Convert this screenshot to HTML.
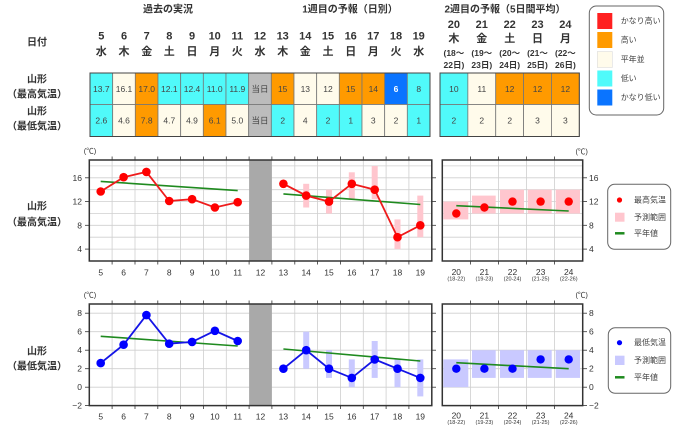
<!DOCTYPE html>
<html><head><meta charset="utf-8">
<style>
html,body{margin:0;padding:0;background:#fff;}
svg{display:block;font-family:"Liberation Sans","Noto Sans CJK JP",sans-serif;}
.h{font-size:10px;font-weight:bold;fill:#333;text-anchor:middle;dominant-baseline:central;}
.dn{font-size:11px;font-weight:bold;fill:#333;text-anchor:middle;dominant-baseline:central;}
.sm{font-size:8.5px;fill:#333;text-anchor:middle;dominant-baseline:central;}
.cv{font-size:8.5px;fill:#444;text-anchor:middle;dominant-baseline:central;}
.ax{font-size:8.5px;fill:#333;dominant-baseline:central;}
.xs{font-size:5.5px;fill:#333;text-anchor:middle;dominant-baseline:central;}
.lg{font-size:8px;fill:#444;dominant-baseline:central;}
.grid line{stroke:#cfcfcf;stroke-width:0.8;}
</style></head><body>
<svg width="680" height="436" viewBox="0 0 680 436" xmlns="http://www.w3.org/2000/svg">
<rect width="680" height="436" fill="#fff"/>

<!-- Headers -->
<text class="h" x="168" y="10">過去の実況</text>
<text class="h" x="350" y="10">1週目の予報（日別）</text>
<text class="h" x="505" y="10">2週目の予報（5日間平均）</text>

<text class="h" x="37" y="43">日付</text>
<text class="h" x="37" y="80">山形</text>
<text class="h" x="37" y="95">（最高気温）</text>
<text class="h" x="37" y="112">山形</text>
<text class="h" x="37" y="127">（最低気温）</text>

<!-- date header week1 -->
<g class="dn">
<text x="101.3" y="36.7">5</text><text x="124" y="36.7">6</text><text x="146.7" y="36.7">7</text><text x="169.3" y="36.7">8</text><text x="192" y="36.7">9</text><text x="214.7" y="36.7">10</text><text x="237.3" y="36.7">11</text><text x="260" y="36.7">12</text><text x="282.7" y="36.7">13</text><text x="305.3" y="36.7">14</text><text x="328" y="36.7">15</text><text x="350.7" y="36.7">16</text><text x="373.3" y="36.7">17</text><text x="396" y="36.7">18</text><text x="418.7" y="36.7">19</text>
<text x="101.3" y="52">水</text><text x="124" y="52">木</text><text x="146.7" y="52">金</text><text x="169.3" y="52">土</text><text x="192" y="52">日</text><text x="214.7" y="52">月</text><text x="237.3" y="52">火</text><text x="260" y="52">水</text><text x="282.7" y="52">木</text><text x="305.3" y="52">金</text><text x="328" y="52">土</text><text x="350.7" y="52">日</text><text x="373.3" y="52">月</text><text x="396" y="52">火</text><text x="418.7" y="52">水</text>
<text x="453.9" y="25">20</text><text x="481.8" y="25">21</text><text x="509.7" y="25">22</text><text x="537.5" y="25">23</text><text x="565.4" y="25">24</text>
<text x="453.9" y="39">木</text><text x="481.8" y="39">金</text><text x="509.7" y="39">土</text><text x="537.5" y="39">日</text><text x="565.4" y="39">月</text>
</g>
<g class="sm" style="font-weight:bold">
<text x="453.9" y="53">(18～</text><text x="481.8" y="53">(19～</text><text x="509.7" y="53">(20～</text><text x="537.5" y="53">(21～</text><text x="565.4" y="53">(22～</text>
<text x="453.9" y="65">22日)</text><text x="481.8" y="65">23日)</text><text x="509.7" y="65">24日)</text><text x="537.5" y="65">25日)</text><text x="565.4" y="65">26日)</text>
</g>

<!-- Table week1 cells -->
<g stroke="#777" stroke-width="0.8">
<rect x="90" y="73" width="22.67" height="31.5" fill="#50fafa"/>
<rect x="112.67" y="73" width="22.67" height="31.5" fill="#fffbeb"/>
<rect x="135.33" y="73" width="22.67" height="31.5" fill="#ff9a00"/>
<rect x="158" y="73" width="22.67" height="31.5" fill="#50fafa"/>
<rect x="180.67" y="73" width="22.67" height="31.5" fill="#50fafa"/>
<rect x="203.33" y="73" width="22.67" height="31.5" fill="#50fafa"/>
<rect x="226" y="73" width="22.67" height="31.5" fill="#50fafa"/>
<rect x="248.67" y="73" width="22.67" height="31.5" fill="#bcbcbc"/>
<rect x="271.33" y="73" width="22.67" height="31.5" fill="#ff9a00"/>
<rect x="294" y="73" width="22.67" height="31.5" fill="#fffbeb"/>
<rect x="316.67" y="73" width="22.67" height="31.5" fill="#fffbeb"/>
<rect x="339.33" y="73" width="22.67" height="31.5" fill="#ff9a00"/>
<rect x="362" y="73" width="22.67" height="31.5" fill="#ff9a00"/>
<rect x="384.67" y="73" width="22.67" height="31.5" fill="#0a74ff"/>
<rect x="407.33" y="73" width="22.67" height="31.5" fill="#50fafa"/>

<rect x="90" y="104.5" width="22.67" height="32" fill="#50fafa"/>
<rect x="112.67" y="104.5" width="22.67" height="32" fill="#fffbeb"/>
<rect x="135.33" y="104.5" width="22.67" height="32" fill="#ff9a00"/>
<rect x="158" y="104.5" width="22.67" height="32" fill="#fffbeb"/>
<rect x="180.67" y="104.5" width="22.67" height="32" fill="#fffbeb"/>
<rect x="203.33" y="104.5" width="22.67" height="32" fill="#ff9a00"/>
<rect x="226" y="104.5" width="22.67" height="32" fill="#fffbeb"/>
<rect x="248.67" y="104.5" width="22.67" height="32" fill="#bcbcbc"/>
<rect x="271.33" y="104.5" width="22.67" height="32" fill="#50fafa"/>
<rect x="294" y="104.5" width="22.67" height="32" fill="#fffbeb"/>
<rect x="316.67" y="104.5" width="22.67" height="32" fill="#50fafa"/>
<rect x="339.33" y="104.5" width="22.67" height="32" fill="#50fafa"/>
<rect x="362" y="104.5" width="22.67" height="32" fill="#fffbeb"/>
<rect x="384.67" y="104.5" width="22.67" height="32" fill="#fffbeb"/>
<rect x="407.33" y="104.5" width="22.67" height="32" fill="#50fafa"/>

<rect x="440" y="73" width="27.86" height="31.5" fill="#50fafa"/>
<rect x="467.86" y="73" width="27.86" height="31.5" fill="#fffbeb"/>
<rect x="495.72" y="73" width="27.86" height="31.5" fill="#ff9a00"/>
<rect x="523.58" y="73" width="27.86" height="31.5" fill="#ff9a00"/>
<rect x="551.44" y="73" width="27.86" height="31.5" fill="#ff9a00"/>
<rect x="440" y="104.5" width="27.86" height="32" fill="#50fafa"/>
<rect x="467.86" y="104.5" width="27.86" height="32" fill="#fffbeb"/>
<rect x="495.72" y="104.5" width="27.86" height="32" fill="#fffbeb"/>
<rect x="523.58" y="104.5" width="27.86" height="32" fill="#fffbeb"/>
<rect x="551.44" y="104.5" width="27.86" height="32" fill="#fffbeb"/>
</g>
<rect x="90" y="73" width="340" height="63.5" fill="none" stroke="#444" stroke-width="1"/>
<rect x="440" y="73" width="139.3" height="63.5" fill="none" stroke="#444" stroke-width="1"/>

<g class="cv">
<text x="101.3" y="89">13.7</text><text x="124" y="89">16.1</text><text x="146.7" y="89">17.0</text><text x="169.3" y="89">12.1</text><text x="192" y="89">12.4</text><text x="214.7" y="89">11.0</text><text x="237.3" y="89">11.9</text><text x="260" y="89">当日</text><text x="282.7" y="89">15</text><text x="305.3" y="89">13</text><text x="328" y="89">12</text><text x="350.7" y="89">15</text><text x="373.3" y="89">14</text><text x="396" y="89" style="fill:#fff;font-weight:bold">6</text><text x="418.7" y="89">8</text>
<text x="101.3" y="120.5">2.6</text><text x="124" y="120.5">4.6</text><text x="146.7" y="120.5">7.8</text><text x="169.3" y="120.5">4.7</text><text x="192" y="120.5">4.9</text><text x="214.7" y="120.5">6.1</text><text x="237.3" y="120.5">5.0</text><text x="260" y="120.5">当日</text><text x="282.7" y="120.5">2</text><text x="305.3" y="120.5">4</text><text x="328" y="120.5">2</text><text x="350.7" y="120.5">1</text><text x="373.3" y="120.5">3</text><text x="396" y="120.5">2</text><text x="418.7" y="120.5">1</text>
<text x="453.9" y="89">10</text><text x="481.8" y="89">11</text><text x="509.7" y="89">12</text><text x="537.5" y="89">12</text><text x="565.4" y="89">12</text>
<text x="453.9" y="120.5">2</text><text x="481.8" y="120.5">2</text><text x="509.7" y="120.5">2</text><text x="537.5" y="120.5">3</text><text x="565.4" y="120.5">3</text>
</g>

<!-- Top legend -->
<rect x="589.3" y="6" width="74.4" height="109" rx="7" fill="#fff" stroke="#666" stroke-width="1"/>
<rect x="597.3" y="13" width="15" height="16" fill="#ff2020"/>
<rect x="597.3" y="32" width="15" height="16" fill="#ff9a00"/>
<rect x="597.3" y="51.5" width="15" height="16" fill="#fffbeb" stroke="#ddd" stroke-width="0.6"/>
<rect x="597.3" y="70.5" width="15" height="16" fill="#50fafa"/>
<rect x="597.3" y="89.5" width="15" height="16" fill="#0a74ff"/>
<g class="lg">
<text x="620.7" y="21">かなり高い</text>
<text x="620.7" y="40">高い</text>
<text x="620.7" y="59.5">平年並</text>
<text x="620.7" y="78.5">低い</text>
<text x="620.7" y="97.5">かなり低い</text>
</g>

<!-- ================= TOP CHART (max) ================= -->
<text class="h" x="37" y="207">山形</text>
<text class="h" x="37" y="223">（最高気温）</text>
<text class="sm" x="90" y="151" style="font-size:7.5px">(℃)</text>
<text class="sm" x="581.7" y="151.7" style="font-size:7.5px">(℃)</text>

<!-- grid week1 -->
<g class="grid">
<line x1="89.3" x2="431.8" y1="165.9" y2="165.9"/><line x1="89.3" x2="431.8" y1="177.8" y2="177.8"/><line x1="89.3" x2="431.8" y1="189.7" y2="189.7"/><line x1="89.3" x2="431.8" y1="201.6" y2="201.6"/><line x1="89.3" x2="431.8" y1="213.5" y2="213.5"/><line x1="89.3" x2="431.8" y1="225.3" y2="225.3"/><line x1="89.3" x2="431.8" y1="237.2" y2="237.2"/><line x1="89.3" x2="431.8" y1="249.1" y2="249.1"/>
<line x1="112.1" x2="112.1" y1="160" y2="261"/><line x1="135" x2="135" y1="160" y2="261"/><line x1="157.8" x2="157.8" y1="160" y2="261"/><line x1="180.6" x2="180.6" y1="160" y2="261"/><line x1="203.5" x2="203.5" y1="160" y2="261"/><line x1="226.3" x2="226.3" y1="160" y2="261"/><line x1="294.8" x2="294.8" y1="160" y2="261"/><line x1="317.6" x2="317.6" y1="160" y2="261"/><line x1="340.4" x2="340.4" y1="160" y2="261"/><line x1="363.3" x2="363.3" y1="160" y2="261"/><line x1="386.1" x2="386.1" y1="160" y2="261"/><line x1="408.9" x2="408.9" y1="160" y2="261"/>
<!-- week2 -->
<line x1="442.3" x2="582.7" y1="165.9" y2="165.9"/><line x1="442.3" x2="582.7" y1="177.8" y2="177.8"/><line x1="442.3" x2="582.7" y1="189.7" y2="189.7"/><line x1="442.3" x2="582.7" y1="201.6" y2="201.6"/><line x1="442.3" x2="582.7" y1="213.5" y2="213.5"/><line x1="442.3" x2="582.7" y1="225.3" y2="225.3"/><line x1="442.3" x2="582.7" y1="237.2" y2="237.2"/><line x1="442.3" x2="582.7" y1="249.1" y2="249.1"/>
<line x1="470.4" x2="470.4" y1="160" y2="261"/><line x1="498.5" x2="498.5" y1="160" y2="261"/><line x1="526.5" x2="526.5" y1="160" y2="261"/><line x1="554.6" x2="554.6" y1="160" y2="261"/>
</g>
<rect x="249.1" y="160" width="22.8" height="101" fill="#a9a9a9"/>

<!-- pink ranges week1 -->
<g fill="#ffc6ce">
<rect x="303.2" y="183.8" width="6" height="23.7"/>
<rect x="326" y="189.7" width="6" height="23.8"/>
<rect x="348.8" y="172.3" width="6" height="27"/>
<rect x="371.7" y="166" width="6" height="33.3"/>
<rect x="394.5" y="219.4" width="6" height="29.7"/>
<rect x="417.3" y="195.6" width="6" height="41.6"/>
<!-- week2 -->
<rect x="443.3" y="201.6" width="25" height="17.8"/>
<rect x="472" y="195.6" width="23.7" height="17.9"/>
<rect x="500" y="189.7" width="24" height="23.8"/>
<rect x="527.7" y="189.7" width="24" height="23.8"/>
<rect x="555.7" y="189.7" width="24.3" height="23.8"/>
</g>

<!-- normals -->
<g stroke="#1f8a1f" stroke-width="1.6">
<line x1="100.7" y1="181.4" x2="237.7" y2="190.6"/>
<line x1="283.4" y1="193.9" x2="420.3" y2="204.5"/>
<line x1="456.3" y1="205.7" x2="568.7" y2="211"/>
</g>

<!-- red series -->
<g fill="none" stroke="#ee1c1c" stroke-width="1.8">
<polyline points="100.7,191.5 123.6,177.2 146.4,171.9 169.2,201 192.1,199.2 214.9,207.5 237.7,202.2"/>
<polyline points="283.4,183.8 306.2,195.6 329,201.6 351.8,183.8 374.7,189.7 397.5,237.2 420.3,225.3"/>
</g>
<g fill="#ff0000">
<circle cx="100.7" cy="191.5" r="4.3"/><circle cx="123.6" cy="177.2" r="4.3"/><circle cx="146.4" cy="171.9" r="4.3"/><circle cx="169.2" cy="201" r="4.3"/><circle cx="192.1" cy="199.2" r="4.3"/><circle cx="214.9" cy="207.5" r="4.3"/><circle cx="237.7" cy="202.2" r="4.3"/>
<circle cx="283.4" cy="183.8" r="4.3"/><circle cx="306.2" cy="195.6" r="4.3"/><circle cx="329" cy="201.6" r="4.3"/><circle cx="351.8" cy="183.8" r="4.3"/><circle cx="374.7" cy="189.7" r="4.3"/><circle cx="397.5" cy="237.2" r="4.3"/><circle cx="420.3" cy="225.3" r="4.3"/>
<circle cx="456.3" cy="213.5" r="4.2"/><circle cx="484.4" cy="207.5" r="4.2"/><circle cx="512.5" cy="201.6" r="4.2"/><circle cx="540.6" cy="201.6" r="4.2"/><circle cx="568.7" cy="201.6" r="4.2"/>
</g>

<!-- frames + ticks -->
<rect x="89.3" y="160" width="342.5" height="101" fill="none" stroke="#333" stroke-width="1.5"/>
<rect x="442.3" y="160" width="140.4" height="101" fill="none" stroke="#333" stroke-width="1.5"/>
<g stroke="#333" stroke-width="0.8">
<line x1="85" x2="89.3" y1="177.8" y2="177.8"/><line x1="85" x2="89.3" y1="201.6" y2="201.6"/><line x1="85" x2="89.3" y1="225.3" y2="225.3"/><line x1="85" x2="89.3" y1="249.1" y2="249.1"/>
<line x1="431.8" x2="436" y1="177.8" y2="177.8"/><line x1="431.8" x2="436" y1="201.6" y2="201.6"/><line x1="431.8" x2="436" y1="225.3" y2="225.3"/><line x1="431.8" x2="436" y1="249.1" y2="249.1"/>
<line x1="582.7" x2="587" y1="177.8" y2="177.8"/><line x1="582.7" x2="587" y1="201.6" y2="201.6"/><line x1="582.7" x2="587" y1="225.3" y2="225.3"/><line x1="582.7" x2="587" y1="249.1" y2="249.1"/>
<line x1="112.1" x2="112.1" y1="156.5" y2="160"/><line x1="135" x2="135" y1="156.5" y2="160"/><line x1="157.8" x2="157.8" y1="156.5" y2="160"/><line x1="180.6" x2="180.6" y1="156.5" y2="160"/><line x1="203.5" x2="203.5" y1="156.5" y2="160"/><line x1="226.3" x2="226.3" y1="156.5" y2="160"/><line x1="249.1" x2="249.1" y1="156.5" y2="160"/><line x1="271.9" x2="271.9" y1="156.5" y2="160"/><line x1="294.8" x2="294.8" y1="156.5" y2="160"/><line x1="317.6" x2="317.6" y1="156.5" y2="160"/><line x1="340.4" x2="340.4" y1="156.5" y2="160"/><line x1="363.3" x2="363.3" y1="156.5" y2="160"/><line x1="386.1" x2="386.1" y1="156.5" y2="160"/><line x1="408.9" x2="408.9" y1="156.5" y2="160"/>
<line x1="112.1" x2="112.1" y1="261" y2="264.5"/><line x1="135" x2="135" y1="261" y2="264.5"/><line x1="157.8" x2="157.8" y1="261" y2="264.5"/><line x1="180.6" x2="180.6" y1="261" y2="264.5"/><line x1="203.5" x2="203.5" y1="261" y2="264.5"/><line x1="226.3" x2="226.3" y1="261" y2="264.5"/><line x1="249.1" x2="249.1" y1="261" y2="264.5"/><line x1="271.9" x2="271.9" y1="261" y2="264.5"/><line x1="294.8" x2="294.8" y1="261" y2="264.5"/><line x1="317.6" x2="317.6" y1="261" y2="264.5"/><line x1="340.4" x2="340.4" y1="261" y2="264.5"/><line x1="363.3" x2="363.3" y1="261" y2="264.5"/><line x1="386.1" x2="386.1" y1="261" y2="264.5"/><line x1="408.9" x2="408.9" y1="261" y2="264.5"/>
<line x1="470.4" x2="470.4" y1="156.5" y2="160"/><line x1="498.5" x2="498.5" y1="156.5" y2="160"/><line x1="526.5" x2="526.5" y1="156.5" y2="160"/><line x1="554.6" x2="554.6" y1="156.5" y2="160"/>
<line x1="470.4" x2="470.4" y1="261" y2="264.5"/><line x1="498.5" x2="498.5" y1="261" y2="264.5"/><line x1="526.5" x2="526.5" y1="261" y2="264.5"/><line x1="554.6" x2="554.6" y1="261" y2="264.5"/>
</g>
<g class="ax" text-anchor="end">
<text x="82" y="177.8">16</text><text x="82" y="201.6">12</text><text x="82" y="225.3">8</text><text x="82" y="249.1">4</text>
</g>
<g class="ax" text-anchor="start">
<text x="589" y="177.8">16</text><text x="589" y="201.6">12</text><text x="589" y="225.3">8</text><text x="589" y="249.1">4</text>
</g>
<g class="sm">
<text x="100.7" y="272.7">5</text><text x="123.6" y="272.7">6</text><text x="146.4" y="272.7">7</text><text x="169.2" y="272.7">8</text><text x="192.1" y="272.7">9</text><text x="214.9" y="272.7">10</text><text x="237.7" y="272.7">11</text><text x="260.5" y="272.7">12</text><text x="283.4" y="272.7">13</text><text x="306.2" y="272.7">14</text><text x="329" y="272.7">15</text><text x="351.8" y="272.7">16</text><text x="374.7" y="272.7">17</text><text x="397.5" y="272.7">18</text><text x="420.3" y="272.7">19</text>
<text x="456.3" y="272">20</text><text x="484.4" y="272">21</text><text x="512.5" y="272">22</text><text x="540.6" y="272">23</text><text x="568.7" y="272">24</text>
</g>
<g class="xs">
<text x="456.3" y="279.5">(18-22)</text><text x="484.4" y="279.5">(19-23)</text><text x="512.5" y="279.5">(20-24)</text><text x="540.6" y="279.5">(21-25)</text><text x="568.7" y="279.5">(22-26)</text>
</g>

<!-- legend top chart -->
<rect x="607.7" y="184.3" width="63" height="65" rx="7" fill="#fff" stroke="#666" stroke-width="1"/>
<circle cx="619.5" cy="200" r="2.6" fill="#ff0000"/>
<rect x="615" y="212.7" width="9.5" height="9" fill="#ffc6ce"/>
<line x1="615" x2="624.5" y1="233.3" y2="233.3" stroke="#1f8a1f" stroke-width="2.5"/>
<g class="lg"><text x="634" y="200">最高気温</text><text x="634" y="217.5">予測範囲</text><text x="634" y="233.3">平年値</text></g>

<!-- ================= BOTTOM CHART (min) ================= -->
<text class="h" x="37" y="352">山形</text>
<text class="h" x="37" y="367">（最低気温）</text>
<text class="sm" x="90" y="295" style="font-size:7.5px">(℃)</text>
<text class="sm" x="581.7" y="295" style="font-size:7.5px">(℃)</text>

<g class="grid">
<line x1="89.3" x2="431.8" y1="313.2" y2="313.2"/><line x1="89.3" x2="431.8" y1="331.7" y2="331.7"/><line x1="89.3" x2="431.8" y1="350.2" y2="350.2"/><line x1="89.3" x2="431.8" y1="368.7" y2="368.7"/><line x1="89.3" x2="431.8" y1="387.2" y2="387.2"/>
<line x1="112.1" x2="112.1" y1="304" y2="405.6"/><line x1="135" x2="135" y1="304" y2="405.6"/><line x1="157.8" x2="157.8" y1="304" y2="405.6"/><line x1="180.6" x2="180.6" y1="304" y2="405.6"/><line x1="203.5" x2="203.5" y1="304" y2="405.6"/><line x1="226.3" x2="226.3" y1="304" y2="405.6"/><line x1="294.8" x2="294.8" y1="304" y2="405.6"/><line x1="317.6" x2="317.6" y1="304" y2="405.6"/><line x1="340.4" x2="340.4" y1="304" y2="405.6"/><line x1="363.3" x2="363.3" y1="304" y2="405.6"/><line x1="386.1" x2="386.1" y1="304" y2="405.6"/><line x1="408.9" x2="408.9" y1="304" y2="405.6"/>
<line x1="442.3" x2="582.7" y1="313.2" y2="313.2"/><line x1="442.3" x2="582.7" y1="331.7" y2="331.7"/><line x1="442.3" x2="582.7" y1="350.2" y2="350.2"/><line x1="442.3" x2="582.7" y1="368.7" y2="368.7"/><line x1="442.3" x2="582.7" y1="387.2" y2="387.2"/>
<line x1="470.4" x2="470.4" y1="304" y2="405.6"/><line x1="498.5" x2="498.5" y1="304" y2="405.6"/><line x1="526.5" x2="526.5" y1="304" y2="405.6"/><line x1="554.6" x2="554.6" y1="304" y2="405.6"/>
</g>
<rect x="249.1" y="304" width="22.8" height="101.6" fill="#a9a9a9"/>

<g fill="#c9c9ff">
<rect x="303.2" y="331.7" width="6" height="37"/>
<rect x="326" y="350.2" width="6" height="27.7"/>
<rect x="348.8" y="359.4" width="6" height="27.8"/>
<rect x="371.7" y="341" width="6" height="36.9"/>
<rect x="394.5" y="359.4" width="6" height="27.8"/>
<rect x="417.3" y="359.4" width="6" height="37"/>
<rect x="443.3" y="359.4" width="25" height="27.8"/>
<rect x="472" y="350.2" width="23.7" height="27.7"/>
<rect x="500" y="350.2" width="24" height="27.7"/>
<rect x="527.7" y="350.2" width="24" height="27.7"/>
<rect x="555.7" y="350.2" width="24.3" height="27.7"/>
</g>

<g stroke="#1f8a1f" stroke-width="1.6">
<line x1="100.7" y1="336.3" x2="237.7" y2="346"/>
<line x1="283.4" y1="349" x2="420.3" y2="361"/>
<line x1="456.3" y1="362.7" x2="568.7" y2="368.7"/>
</g>

<g fill="none" stroke="#1414e6" stroke-width="1.8">
<polyline points="100.7,363.1 123.6,344.7 146.4,315.1 169.2,343.7 192.1,341.9 214.9,330.8 237.7,341"/>
<polyline points="283.4,368.7 306.2,350.2 329,368.7 351.8,377.9 374.7,359.4 397.5,368.7 420.3,377.9"/>
</g>
<g fill="#0000ff">
<circle cx="100.7" cy="363.1" r="4.3"/><circle cx="123.6" cy="344.7" r="4.3"/><circle cx="146.4" cy="315.1" r="4.3"/><circle cx="169.2" cy="343.7" r="4.3"/><circle cx="192.1" cy="341.9" r="4.3"/><circle cx="214.9" cy="330.8" r="4.3"/><circle cx="237.7" cy="341" r="4.3"/>
<circle cx="283.4" cy="368.7" r="4.3"/><circle cx="306.2" cy="350.2" r="4.3"/><circle cx="329" cy="368.7" r="4.3"/><circle cx="351.8" cy="377.9" r="4.3"/><circle cx="374.7" cy="359.4" r="4.3"/><circle cx="397.5" cy="368.7" r="4.3"/><circle cx="420.3" cy="377.9" r="4.3"/>
<circle cx="456.3" cy="368.7" r="4.2"/><circle cx="484.4" cy="368.7" r="4.2"/><circle cx="512.5" cy="368.7" r="4.2"/><circle cx="540.6" cy="359.4" r="4.2"/><circle cx="568.7" cy="359.4" r="4.2"/>
</g>

<rect x="89.3" y="304" width="342.5" height="101.6" fill="none" stroke="#333" stroke-width="1.5"/>
<rect x="442.3" y="304" width="140.4" height="101.6" fill="none" stroke="#333" stroke-width="1.5"/>
<g stroke="#333" stroke-width="0.8">
<line x1="85" x2="89.3" y1="313.2" y2="313.2"/><line x1="85" x2="89.3" y1="331.7" y2="331.7"/><line x1="85" x2="89.3" y1="350.2" y2="350.2"/><line x1="85" x2="89.3" y1="368.7" y2="368.7"/><line x1="85" x2="89.3" y1="387.2" y2="387.2"/><line x1="85" x2="89.3" y1="405.6" y2="405.6"/>
<line x1="431.8" x2="436" y1="313.2" y2="313.2"/><line x1="431.8" x2="436" y1="331.7" y2="331.7"/><line x1="431.8" x2="436" y1="350.2" y2="350.2"/><line x1="431.8" x2="436" y1="368.7" y2="368.7"/><line x1="431.8" x2="436" y1="387.2" y2="387.2"/>
<line x1="582.7" x2="587" y1="313.2" y2="313.2"/><line x1="582.7" x2="587" y1="331.7" y2="331.7"/><line x1="582.7" x2="587" y1="350.2" y2="350.2"/><line x1="582.7" x2="587" y1="368.7" y2="368.7"/><line x1="582.7" x2="587" y1="387.2" y2="387.2"/><line x1="582.7" x2="587" y1="405.6" y2="405.6"/>
<line x1="112.1" x2="112.1" y1="300.5" y2="304"/><line x1="135" x2="135" y1="300.5" y2="304"/><line x1="157.8" x2="157.8" y1="300.5" y2="304"/><line x1="180.6" x2="180.6" y1="300.5" y2="304"/><line x1="203.5" x2="203.5" y1="300.5" y2="304"/><line x1="226.3" x2="226.3" y1="300.5" y2="304"/><line x1="249.1" x2="249.1" y1="300.5" y2="304"/><line x1="271.9" x2="271.9" y1="300.5" y2="304"/><line x1="294.8" x2="294.8" y1="300.5" y2="304"/><line x1="317.6" x2="317.6" y1="300.5" y2="304"/><line x1="340.4" x2="340.4" y1="300.5" y2="304"/><line x1="363.3" x2="363.3" y1="300.5" y2="304"/><line x1="386.1" x2="386.1" y1="300.5" y2="304"/><line x1="408.9" x2="408.9" y1="300.5" y2="304"/>
<line x1="112.1" x2="112.1" y1="405.6" y2="409"/><line x1="135" x2="135" y1="405.6" y2="409"/><line x1="157.8" x2="157.8" y1="405.6" y2="409"/><line x1="180.6" x2="180.6" y1="405.6" y2="409"/><line x1="203.5" x2="203.5" y1="405.6" y2="409"/><line x1="226.3" x2="226.3" y1="405.6" y2="409"/><line x1="249.1" x2="249.1" y1="405.6" y2="409"/><line x1="271.9" x2="271.9" y1="405.6" y2="409"/><line x1="294.8" x2="294.8" y1="405.6" y2="409"/><line x1="317.6" x2="317.6" y1="405.6" y2="409"/><line x1="340.4" x2="340.4" y1="405.6" y2="409"/><line x1="363.3" x2="363.3" y1="405.6" y2="409"/><line x1="386.1" x2="386.1" y1="405.6" y2="409"/><line x1="408.9" x2="408.9" y1="405.6" y2="409"/>
<line x1="470.4" x2="470.4" y1="300.5" y2="304"/><line x1="498.5" x2="498.5" y1="300.5" y2="304"/><line x1="526.5" x2="526.5" y1="300.5" y2="304"/><line x1="554.6" x2="554.6" y1="300.5" y2="304"/>
<line x1="470.4" x2="470.4" y1="405.6" y2="409"/><line x1="498.5" x2="498.5" y1="405.6" y2="409"/><line x1="526.5" x2="526.5" y1="405.6" y2="409"/><line x1="554.6" x2="554.6" y1="405.6" y2="409"/>
</g>
<g class="ax" text-anchor="end">
<text x="82" y="313.2">8</text><text x="82" y="331.7">6</text><text x="82" y="350.2">4</text><text x="82" y="368.7">2</text><text x="82" y="387.2">0</text><text x="82" y="405.6">−2</text>
</g>
<g class="ax" text-anchor="start">
<text x="589" y="313.2">8</text><text x="589" y="331.7">6</text><text x="589" y="350.2">4</text><text x="589" y="368.7">2</text><text x="589" y="387.2">0</text><text x="589" y="405.6">−2</text>
</g>
<g class="sm">
<text x="100.7" y="416.7">5</text><text x="123.6" y="416.7">6</text><text x="146.4" y="416.7">7</text><text x="169.2" y="416.7">8</text><text x="192.1" y="416.7">9</text><text x="214.9" y="416.7">10</text><text x="237.7" y="416.7">11</text><text x="260.5" y="416.7">12</text><text x="283.4" y="416.7">13</text><text x="306.2" y="416.7">14</text><text x="329" y="416.7">15</text><text x="351.8" y="416.7">16</text><text x="374.7" y="416.7">17</text><text x="397.5" y="416.7">18</text><text x="420.3" y="416.7">19</text>
<text x="456.3" y="415.5">20</text><text x="484.4" y="415.5">21</text><text x="512.5" y="415.5">22</text><text x="540.6" y="415.5">23</text><text x="568.7" y="415.5">24</text>
</g>
<g class="xs">
<text x="456.3" y="423">(18-22)</text><text x="484.4" y="423">(19-23)</text><text x="512.5" y="423">(20-24)</text><text x="540.6" y="423">(21-25)</text><text x="568.7" y="423">(22-26)</text>
</g>

<rect x="608.3" y="327.7" width="62.4" height="65.6" rx="7" fill="#fff" stroke="#666" stroke-width="1"/>
<circle cx="619.5" cy="342.7" r="2.6" fill="#0000ff"/>
<rect x="615" y="355.7" width="9.5" height="9.3" fill="#c9c9ff"/>
<line x1="615" x2="624.5" y1="377.3" y2="377.3" stroke="#1f8a1f" stroke-width="2.5"/>
<g class="lg"><text x="634" y="342.7">最低気温</text><text x="634" y="360.3">予測範囲</text><text x="634" y="377.3">平年値</text></g>
</svg>
</body></html>
